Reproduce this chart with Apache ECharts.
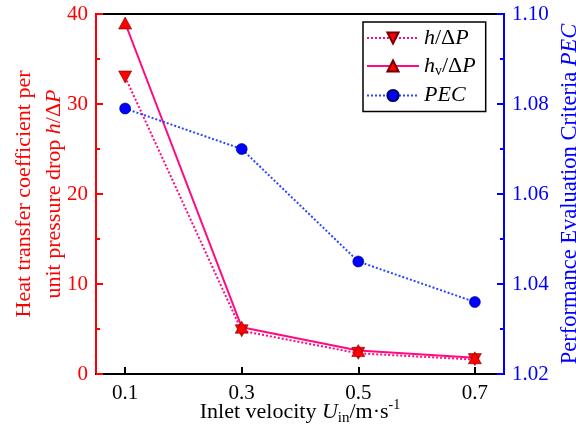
<!DOCTYPE html>
<html><head><meta charset="utf-8">
<script src="https://cdn.jsdelivr.net/npm/echarts@6/dist/echarts.min.js"></script>
<style>html,body{margin:0;padding:0;background:#fff}#c{width:576px;height:430px}</style>
</head><body><div id="c"></div>
<script>
const velocities = [0.1, 0.3, 0.5, 0.7];
const hDP = [33.0, 4.8, 2.3, 1.6];
const hvDP = [39.0, 5.2, 2.6, 1.8];
const pec = [1.079, 1.070, 1.045, 1.036];
const xTicks = [0.1, 0.3, 0.5, 0.7];

const F = "'Times New Roman','Liberation Serif',serif";
const pink = '#ff0a80';
const red = '#ff0000';
const blue = '#0000ff';
const downTri = 'path://M0,0 L10,0 L5,9 Z';

const chart = echarts.init(document.getElementById('c'));
chart.setOption({
  animation: false,
  backgroundColor: '#fff',
  grid: { left: 96, right: 72, top: 14, bottom: 56, show: true, borderColor: '#000', borderWidth: 2,
    containLabel: false, outerBoundsMode: 'none' },
  legend: {
    orient: 'vertical', left: 363, top: 22, padding: [5, 10, 5, 3],
    borderColor: '#000', borderWidth: 1.5,
    itemWidth: 52, itemHeight: 14, itemGap: 6,
    data: ['h', 'hv', 'pec'],
    formatter: function (n) {
      if (n === 'h') return '{i|h}{n|/Δ}{i|P}';
      if (n === 'hv') return '{i|h}{s|v}{n|/Δ}{i|P}';
      return '{i|PEC}';
    },
    textStyle: {
      fontFamily: F, fontSize: 22, color: '#000',
      rich: {
        i: { fontFamily: F, fontSize: 22, fontStyle: 'italic', lineHeight: 25 },
        n: { fontFamily: F, fontSize: 22, lineHeight: 25 },
        s: { fontFamily: F, fontSize: 14, lineHeight: 25, verticalAlign: 'bottom' }
      }
    }
  },
  xAxis: {
    type: 'value', min: 0.05, max: 0.75,
    axisLine: { lineStyle: { color: '#000', width: 2 } },
    axisTick: { inside: true, length: 7, lineStyle: { width: 2, color: '#000' }, customValues: xTicks },
    axisLabel: { customValues: xTicks, fontFamily: F, fontSize: 21, color: '#000', margin: 9,
      formatter: v => v.toFixed(1) },
    splitLine: { show: false },
    name: '{n|Inlet velocity }{i|U}{s|in}{n|/m·s}{p|-1}',
    nameLocation: 'middle', nameGap: 24, nameMoveOverlap: false,
    nameTextStyle: {
      fontFamily: F, fontSize: 22, color: '#000',
      rich: {
        n: { fontFamily: F, fontSize: 22, lineHeight: 28 },
        i: { fontFamily: F, fontSize: 22, fontStyle: 'italic', lineHeight: 28 },
        s: { fontFamily: F, fontSize: 15, lineHeight: 28, verticalAlign: 'bottom' },
        p: { fontFamily: F, fontSize: 14, lineHeight: 28, verticalAlign: 'top' }
      }
    }
  },
  yAxis: [{
    type: 'value', min: 0, max: 40, interval: 10, position: 'left',
    axisLine: { show: true, lineStyle: { color: red, width: 2 } },
    axisTick: { show: true, inside: true, length: 7, lineStyle: { color: red, width: 2 } },
    minorTick: { show: true, splitNumber: 2, length: 4, lineStyle: { color: red, width: 2 } },
    axisLabel: { fontFamily: F, fontSize: 21, color: red, margin: 8 },
    splitLine: { show: false },
    name: 'Heat transfer coefficient per\nunit pressure drop {i|h}/Δ{i|P}',
    nameLocation: 'middle', nameRotate: 90, nameGap: 27, nameMoveOverlap: false,
    nameTextStyle: {
      fontFamily: F, fontSize: 22, color: red, lineHeight: 30, align: 'center',
      rich: { i: { fontFamily: F, fontSize: 22, fontStyle: 'italic', color: red, lineHeight: 30 } }
    }
  }, {
    type: 'value', min: 1.02, max: 1.10, interval: 0.02, position: 'right',
    axisLine: { show: true, lineStyle: { color: blue, width: 2 } },
    axisTick: { show: true, inside: true, length: 7, lineStyle: { color: blue, width: 2 } },
    minorTick: { show: true, splitNumber: 2, length: 4, lineStyle: { color: blue, width: 2 } },
    axisLabel: { fontFamily: F, fontSize: 21, color: blue, margin: 8, formatter: v => v.toFixed(2) },
    splitLine: { show: false },
    name: 'Performance Evaluation Criteria {i|PEC}',
    nameLocation: 'middle', nameRotate: 90, nameGap: 55, nameMoveOverlap: false,
    nameTextStyle: {
      fontFamily: F, fontSize: 22.5, color: blue,
      rich: { i: { fontFamily: F, fontSize: 22.5, fontStyle: 'italic', color: blue } }
    }
  }],
  series: [{
    name: 'h', type: 'line', yAxisIndex: 0,
    data: velocities.map((x, i) => [x, hDP[i]]),
    symbol: downTri, symbolSize: [13, 12],
    lineStyle: { color: pink, width: 2, type: 'dotted' },
    itemStyle: { color: red, borderColor: '#700000', borderWidth: 0.6 }
  }, {
    name: 'hv', type: 'line', yAxisIndex: 0,
    data: velocities.map((x, i) => [x, hvDP[i]]),
    symbol: 'triangle', symbolSize: [13, 12],
    lineStyle: { color: pink, width: 2, type: 'solid' },
    itemStyle: { color: red, borderColor: '#700000', borderWidth: 0.6 }
  }, {
    name: 'pec', type: 'line', yAxisIndex: 1,
    data: velocities.map((x, i) => [x, pec[i]]),
    symbol: 'circle', symbolSize: 11,
    lineStyle: { color: '#2848ff', width: 2, type: 'dotted' },
    itemStyle: { color: blue, borderColor: '#000060', borderWidth: 0.6 }
  }]
});
</script></body></html>
